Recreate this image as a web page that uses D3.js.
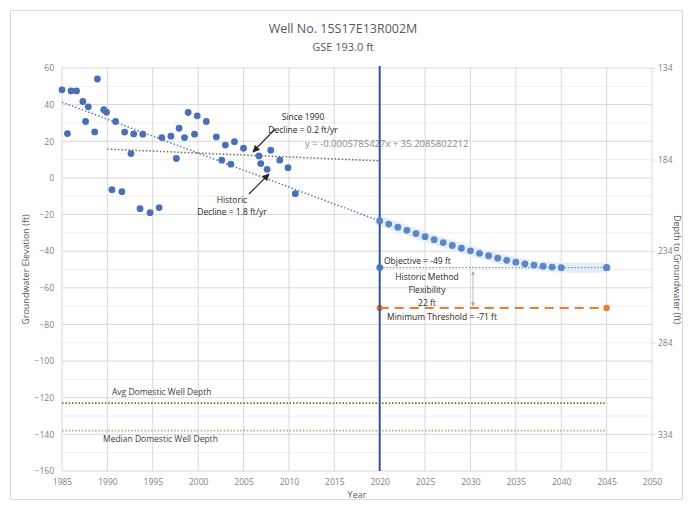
<!DOCTYPE html>
<html><head><meta charset="utf-8">
<script src="https://cdn.jsdelivr.net/npm/d3@7"></script>
<style>
body{margin:0;background:#fff;}
text{font-family:"Open Sans","Noto Sans",sans-serif;}
</style></head>
<body><svg id="c" width="689" height="506"></svg>
<script>
// ---- data ----
const title = "Well No. 15S17E13R002M";
const subtitle = "GSE 193.0 ft";
const gse = 194; // depth = gse - elevation (right axis)
const histYears = [1985.0,1985.6,1986.0,1986.6,1987.3,1987.6,1987.9,1988.6,1988.9,1989.6,1989.9,1990.5,1990.9,1991.6,1991.9,1992.6,1992.9,1993.6,1993.9,1994.7,1995.7,1996.0,1997.0,1997.6,1997.9,1998.5,1998.9,1999.6,1999.9,2000.9,2002.0,2002.6,2003.0,2003.6,2004.0,2005.0,2006.7,2006.9,2007.6,2008.0,2009.0,2009.9,2010.7];
const histElev  = [48.1,24.2,47.5,47.5,41.7,30.8,38.8,25.1,54.0,37.2,35.9,-6.4,30.8,-7.5,25.0,13.3,24.0,-16.8,23.9,-19.0,-16.2,22.0,22.8,10.6,27.1,22.0,35.7,23.9,33.9,30.8,22.4,9.7,17.9,7.5,19.8,16.2,12.0,7.8,4.7,15.1,9.7,5.6,-8.6];
const projYears = [2020,2021,2022,2023,2024,2025,2026,2027,2028,2029,2030,2031,2032,2033,2034,2035,2036,2037,2038,2039,2040,2045];
const projElev  = [-23.5,-25.2,-26.9,-28.6,-30.4,-32.1,-33.7,-35.3,-36.9,-38.4,-39.8,-41.2,-42.5,-43.8,-45.0,-46.0,-46.9,-47.6,-48.2,-48.7,-49.0,-49.0];
const historicTrend = [[1985,41.3],[2020,-23.5]];
const since1990Trend = [[1990,15.7],[2020,9.3]];
const objective = [[2020,-49],[2045,-49]];
const minThreshold = [[2020,-71],[2045,-71]];
const avgWellDepth = [[1985,-123],[2045,-123]];
const medianWellDepth = [[1985,-138],[2045,-138]];
const currentYear = 2020;
const xTicks = [1985,1990,1995,2000,2005,2010,2015,2020,2025,2030,2035,2040,2045,2050];
const yTicks = [60,40,20,0,-20,-40,-60,-80,-100,-120,-140,-160];
const yMinor = [50,30,10,-10,-30,-50,-70,-90,-110,-130,-150];
const rTicks = [134,184,234,284,334];
const trendEq = "y = -0.0005785427x + 35.2085802212";

// ---- drawing ----
const svg = d3.select("#c");
const L=62,R=652,T=68,B=471;
const x = d3.scaleLinear().domain([1985,2050]).range([L,R]);
const y = d3.scaleLinear().domain([-160,60]).range([B,T]);
const yR = d3.scaleLinear().domain([gse+160,gse-60]).range([B,T]);

svg.append("rect").attr("x",10.5).attr("y",10.5).attr("width",672).attr("height",489)
  .attr("fill","#fff").attr("stroke","#d9d9d9");

// gridlines
const g = svg.append("g");
g.selectAll(".ym").data(yMinor).join("line").attr("x1",L).attr("x2",R)
  .attr("y1",d=>y(d)).attr("y2",d=>y(d)).attr("stroke","#efefef").attr("stroke-width",1);
g.selectAll(".yg").data(yTicks).join("line").attr("x1",L).attr("x2",R)
  .attr("y1",d=>y(d)).attr("y2",d=>y(d)).attr("stroke","#d9d9d9").attr("stroke-width",1);
g.selectAll(".xg").data(xTicks).join("line").attr("y1",T).attr("y2",B)
  .attr("x1",d=>x(d)).attr("x2",d=>x(d)).attr("stroke","#d9d9d9").attr("stroke-width",1);

// axes
const fs = "8.5px", tc = "#7f7f7f";
const ax = svg.append("g").attr("transform",`translate(0,${B})`)
  .call(d3.axisBottom(x).tickValues(xTicks).tickFormat(d3.format("d")).tickSize(0).tickPadding(8));
const ay = svg.append("g").attr("transform",`translate(${L},0)`)
  .call(d3.axisLeft(y).tickValues(yTicks).tickSize(0).tickPadding(8));
const ar = svg.append("g").attr("transform",`translate(${R},0)`)
  .call(d3.axisRight(yR).tickValues(rTicks).tickSize(3).tickPadding(3));
[ax,ay,ar].forEach(a=>{a.select(".domain").remove();
  a.selectAll("text").attr("fill",tc).style("font-size",fs);
  a.selectAll("line").attr("stroke","#d9d9d9");});

svg.append("text").attr("x",(L+R)/2).attr("y",498).attr("text-anchor","middle")
  .attr("fill","#595959").style("font-size","9px").text("Year");
svg.append("text").attr("transform",`translate(29,${(T+B)/2}) rotate(-90)`).attr("text-anchor","middle")
  .attr("fill","#595959").style("font-size","9px").text("Groundwater Elevation (ft)");
svg.append("text").attr("transform",`translate(674,${(T+B)/2}) rotate(90)`).attr("text-anchor","middle")
  .attr("fill","#595959").style("font-size","9px").text("Depth to Groundwater (ft)");

svg.append("text").attr("x",343).attr("y",33).attr("text-anchor","middle")
  .attr("fill","#595959").style("font-size","12.5px").text(title);
svg.append("text").attr("x",343).attr("y",51).attr("text-anchor","middle")
  .attr("fill","#595959").style("font-size","11px").text(subtitle);

const line = d3.line().x(d=>x(d[0])).y(d=>y(d[1]));

// domestic well depth lines
svg.append("path").attr("d",line(avgWellDepth)).attr("fill","none")
  .attr("stroke","#6f6f2a").attr("stroke-width",1.8).attr("stroke-dasharray","1.5,1.8");
svg.append("path").attr("d",line(medianWellDepth)).attr("fill","none")
  .attr("stroke","#b5b07a").attr("stroke-width",1.8).attr("stroke-dasharray","1.5,1.8");
svg.append("text").attr("x",112).attr("y",395).attr("fill","#404040").style("font-size","8.5px").text("Avg Domestic Well Depth");
svg.append("text").attr("x",103).attr("y",442).attr("fill","#404040").style("font-size","8.5px").text("Median Domestic Well Depth");

// trend lines
svg.append("path").attr("d",line(historicTrend)).attr("fill","none")
  .attr("stroke","#5a7db8").attr("stroke-width",1.5).attr("stroke-dasharray","1.5,2");
svg.append("path").attr("d",line(since1990Trend)).attr("fill","none")
  .attr("stroke","#6b7040").attr("stroke-width",1.5).attr("stroke-dasharray","1.5,2");
svg.append("text").attr("x",305).attr("y",147).attr("fill","#8c8c8c").style("font-size","9.5px")
  .text(trendEq);

// objective and threshold
const projData = projYears.map((d,i)=>[d,projElev[i]]);
svg.append("path").attr("d",line(projData)).attr("fill","none")
  .attr("stroke","#e4eefa").attr("stroke-width",10).attr("stroke-linecap","round");
svg.append("path").attr("d",line(objective)).attr("fill","none")
  .attr("stroke","#7f8fa6").attr("stroke-width",1.3).attr("stroke-dasharray","1.5,1.8");
svg.append("path").attr("d",line(minThreshold)).attr("fill","none")
  .attr("stroke","#ed7d31").attr("stroke-width",2).attr("stroke-dasharray","9,6");
svg.selectAll(".mt").data(minThreshold).join("circle").attr("cx",d=>x(d[0])).attr("cy",d=>y(d[1]))
  .attr("r",3.2).attr("fill","#ed7d31");

// current year vertical line
svg.append("line").attr("x1",x(currentYear)).attr("x2",x(currentYear)).attr("y1",T-2).attr("y2",B)
  .attr("stroke","#2f5597").attr("stroke-width",2);

// points
svg.selectAll(".ob").data(objective).join("circle").attr("cx",d=>x(d[0])).attr("cy",d=>y(d[1]))
  .attr("r",3.3).attr("fill","#4a74c0");
svg.selectAll(".pp").data(projData).join("circle").attr("cx",d=>x(d[0])).attr("cy",d=>y(d[1]))
  .attr("r",3.4).attr("fill","#5b86c8");
svg.selectAll(".hp").data(histYears.map((d,i)=>[d,histElev[i]])).join("circle")
  .attr("cx",d=>x(d[0])).attr("cy",d=>y(d[1])).attr("r",3.4).attr("fill","#4a6fb5");

// arrow markers
const defs = svg.append("defs");
defs.append("marker").attr("id","ah").attr("viewBox","0 0 10 10").attr("refX",9).attr("refY",5)
  .attr("markerWidth",6).attr("markerHeight",6).attr("orient","auto-start-reverse")
  .append("path").attr("d","M0,0L10,5L0,10z").attr("fill","#262626");
defs.append("marker").attr("id","ahg").attr("viewBox","0 0 10 10").attr("refX",9).attr("refY",5)
  .attr("markerWidth",5).attr("markerHeight",5).attr("orient","auto-start-reverse")
  .append("path").attr("d","M0,0L10,5L0,10z").attr("fill","#a6a6a6");

// annotations
const ann = (tx,ty,s,anchor="middle",size="8.5px")=>svg.append("text").attr("x",tx).attr("y",ty)
  .attr("text-anchor",anchor).attr("fill","#262626").style("font-size",size).text(s);
ann(303,120,"Since 1990");
ann(303,133,"Decline = 0.2 ft/yr");
svg.append("line").attr("x1",275).attr("y1",129).attr("x2",253).attr("y2",152)
  .attr("stroke","#262626").attr("stroke-width",1.2).attr("marker-end","url(#ah)");
ann(232,203,"Historic");
ann(232,215,"Decline = 1.8 ft/yr");
svg.append("line").attr("x1",249).attr("y1",194).attr("x2",269).attr("y2",174)
  .attr("stroke","#262626").attr("stroke-width",1.2).attr("marker-end","url(#ah)");

ann(384,264,"Objective = -49 ft","start");
ann(427,280,"Historic Method");
ann(427,293,"Flexibility");
ann(427,306,"22 ft");
ann(387,320,"Minimum Threshold = -71 ft","start");
svg.append("line").attr("x1",473).attr("y1",y(-49)+4).attr("x2",473).attr("y2",y(-71)-2)
  .attr("stroke","#a6a6a6").attr("stroke-width",0.8)
  .attr("marker-start","url(#ahg)").attr("marker-end","url(#ahg)");
</script></body></html>
